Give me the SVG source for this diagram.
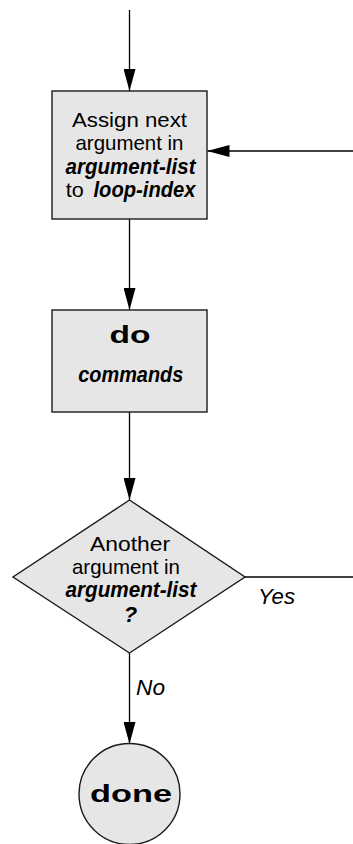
<svg xmlns="http://www.w3.org/2000/svg" width="353" height="844" viewBox="0 0 353 844">
<style>
.shape{fill:#e6e6e6;stroke:#1a1a1a;stroke-width:1.4}
.edge{fill:none;stroke:#000;stroke-width:1.3}
text{font-family:"Liberation Sans",Arial,sans-serif;fill:#000;text-anchor:middle}
.reg{font-size:21px}
.bi{font-size:22px;font-weight:bold;font-style:italic}
.bw{font-size:24px;font-weight:bold}
.it{font-size:22px;font-style:italic;text-anchor:start}
</style>
<defs>
<marker id="arr" markerUnits="userSpaceOnUse" markerWidth="22" markerHeight="12" refX="22" refY="6" orient="auto">
<path d="M0,0 L22,6 L0,12 z" fill="#000"/>
</marker>
</defs>
<g id="connectors">
<line class="edge" x1="129.5" y1="10" x2="129.5" y2="91" marker-end="url(#arr)"/>
<line class="edge" x1="353" y1="151" x2="207.5" y2="151" marker-end="url(#arr)"/>
<line class="edge" x1="129.5" y1="219" x2="129.5" y2="310" marker-end="url(#arr)"/>
<line class="edge" x1="129.5" y1="412" x2="129.5" y2="500" marker-end="url(#arr)"/>
<line class="edge" x1="245" y1="577" x2="353" y2="577"/>
<line class="edge" x1="129.5" y1="653" x2="129.5" y2="744" marker-end="url(#arr)"/>
<text class="it" x="258" y="604" textLength="37" lengthAdjust="spacingAndGlyphs">Yes</text>
<text class="it" x="136" y="695" textLength="29" lengthAdjust="spacingAndGlyphs">No</text>
</g>
<g id="assign">
<rect class="shape" x="52" y="91" width="155" height="128"/>
<text class="reg" x="129.5" y="126.5" textLength="115" lengthAdjust="spacingAndGlyphs">Assign next</text>
<text class="reg" x="129.5" y="150" textLength="108" lengthAdjust="spacingAndGlyphs">argument in</text>
<text class="bi" x="130.5" y="174" textLength="130" lengthAdjust="spacingAndGlyphs">argument-list</text>
<text class="reg" x="65.7" y="197" style="text-anchor:start" textLength="18" lengthAdjust="spacingAndGlyphs">to</text>
<text class="bi" x="93.5" y="197" style="text-anchor:start" textLength="102" lengthAdjust="spacingAndGlyphs">loop-index</text>
</g>
<g id="do">
<rect class="shape" x="52" y="310" width="155" height="102"/>
<text class="bw" x="130" y="342.5" textLength="41" lengthAdjust="spacingAndGlyphs">do</text>
<text class="bi" x="130.8" y="381.5" textLength="105" lengthAdjust="spacingAndGlyphs">commands</text>
</g>
<g id="another">
<polygon class="shape" points="129.5,500 245,577 129.5,653 13,577"/>
<text class="reg" x="130" y="550.5" textLength="80" lengthAdjust="spacingAndGlyphs">Another</text>
<text class="reg" x="126" y="573.5" textLength="108" lengthAdjust="spacingAndGlyphs">argument in</text>
<text class="bi" x="131" y="596.5" textLength="131" lengthAdjust="spacingAndGlyphs">argument-list</text>
<text class="bi" x="130.5" y="621.5">?</text>
</g>
<g id="done">
<circle class="shape" cx="129.5" cy="794" r="50.5"/>
<text class="bw" x="131" y="801.5" textLength="82" lengthAdjust="spacingAndGlyphs">done</text>
</g>
</svg>
